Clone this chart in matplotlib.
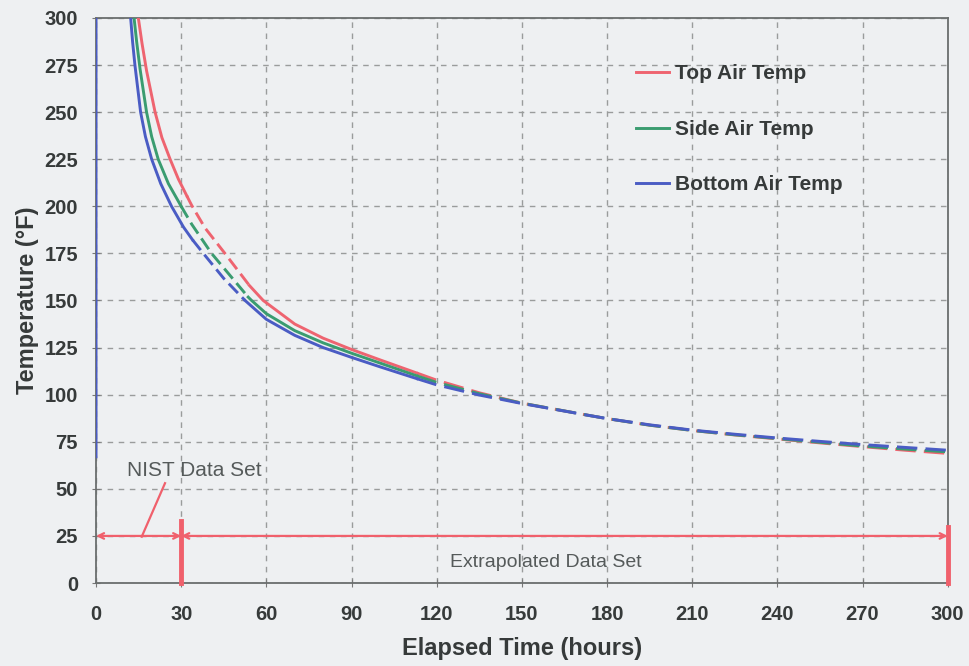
import numpy as np
from matplotlib import pyplot as plt

# Temperature curves (hours, deg F)
top_time = [14.9, 16.2, 17.8, 20.8, 23.2, 26.1, 29, 32, 33.7, 38.4, 45.4, 54, 58.9, 70, 80, 90,
            100, 113, 120, 135, 150, 172.8, 180, 195, 210, 225, 240, 255, 270, 285, 300]
top_temp = [300, 286.5, 272, 250, 236.5, 225, 214.5, 205.5, 200.5, 188.5, 175, 158, 150, 137.5, 130, 124,
            118.5, 111.5, 107.7, 101, 95.5, 89.2, 87.3, 83.8, 81, 78.6, 76.5, 74.4, 72.4, 70.5, 68.8]

side_time = [13.4, 14.3, 15.5, 17.8, 19.6, 21.9, 25.5, 30, 33.7, 40.7, 53.6, 54.8, 60, 70, 80, 90,
             100, 113, 120, 135, 150, 172.8, 180, 195, 210, 225, 240, 255, 270, 285, 300]
side_temp = [300, 287.5, 273, 250, 237, 225, 212, 200, 190.5, 175, 151.8, 150, 143, 134, 127.5, 122,
             116.8, 110, 106.5, 100.5, 95.5, 89.2, 87.3, 83.8, 81, 78.7, 76.7, 74.7, 72.7, 71.1, 69.6]

bottom_time = [0, 0, 12.2, 12.9, 13.7, 15.7, 17.4, 19.6, 22.8, 26.6, 30.8, 34, 37.8, 45, 52.5, 60,
               70, 80, 90, 100, 113, 120, 135, 150, 172.8, 180, 195, 210, 225, 240, 255, 270, 285, 300]
bottom_temp = [67, 400, 300, 287, 275, 250, 237, 225, 212, 200, 189, 182.2, 175, 161.7, 150, 140,
               131.5, 125, 119.8, 114.8, 108.5, 105.2, 99.8, 95.3, 89.2, 87.3, 84, 81.2, 79, 77, 75.2, 73.5, 72, 70.5]

# where each curve switches between solid and dashed
top_breaks = [32, 54, 113]
side_breaks = [30, 53.6, 113]
bottom_breaks = [34, 52.5, 113]

series = [
    ('Top Air Temp', top_time, top_temp, top_breaks, '#ee6470'),
    ('Side Air Temp', side_time, side_temp, side_breaks, '#3a9c70'),
    ('Bottom Air Temp', bottom_time, bottom_temp, bottom_breaks, '#4a5cc4'),
]

bg = '#eef0f2'
txt = '#363a3a'
annot = '#f0606c'

fig = plt.figure(figsize=(9.7, 6.66), dpi=100, facecolor=bg)
ax = fig.add_axes([0.099, 0.1246, 0.878, 0.8484], facecolor=bg)

styles = ['-', (0, (4.5, 2)), '-', (0, (7, 2.8))]
for label, t, T, br, col in series:
    t = np.array(t)
    T = np.array(T)
    edges = [-1] + br + [1000]
    for k in range(4):
        m = (t >= edges[k]) & (t <= edges[k + 1])
        ax.plot(t[m], T[m], color=col, lw=2.1, ls=styles[k],
                label=label if k == 0 else None, zorder=3)

# data-set range markers
ax.annotate('', xy=(0, 25), xytext=(30, 25),
            arrowprops=dict(arrowstyle='<->', color=annot, lw=1.6, shrinkA=0, shrinkB=0))
ax.annotate('', xy=(30, 25), xytext=(300, 25),
            arrowprops=dict(arrowstyle='<->', color=annot, lw=1.6, shrinkA=0, shrinkB=0))
ax.plot([30, 30], [0, 33], color=annot, lw=3.5, zorder=4, clip_on=False)
ax.plot([300, 300], [0, 30], color=annot, lw=3.5, zorder=4, clip_on=False)
ax.plot([16.1, 24.3], [24.6, 53], color=annot, lw=1.6)
ax.text(34.5, 60, 'NIST Data Set', ha='center', va='center', fontsize=15,
        color='#555a5a', family='Liberation Sans')
ax.text(158.5, 11, 'Extrapolated Data Set', ha='center', va='center', fontsize=14,
        color='#555a5a', family='Liberation Sans')

ax.set_xlim(0, 300)
ax.set_ylim(0, 300)
ax.set_xticks(np.arange(0, 301, 30))
ax.set_yticks(np.arange(0, 301, 25))
ax.grid(True, ls=(0, (4, 4)), color='#9a9c9c', lw=1.0, zorder=0)
ax.tick_params(direction='inout', length=6, color='#777', labelsize=14.5,
               labelcolor=txt)
ax.tick_params(axis='x', pad=13)
ax.tick_params(axis='y', pad=10)
for lab in ax.get_xticklabels() + ax.get_yticklabels():
    lab.set_fontweight('bold')
    lab.set_family('Liberation Sans')
for s in ax.spines.values():
    s.set_color('#6a6e6e')
    s.set_linewidth(1.3)

ax.set_xlabel('Elapsed Time (hours)', fontsize=17, fontweight='bold', color=txt,
              family='Liberation Sans', labelpad=9)
ax.set_ylabel('Temperature (°F)', fontsize=17, fontweight='bold', color=txt,
              family='Liberation Sans', labelpad=4)

leg = ax.legend(loc='upper left', bbox_to_anchor=(0.612, 0.951), frameon=False,
                handlelength=1.6, handletextpad=0.25, labelspacing=1.75,
                prop={'family': 'Liberation Sans', 'weight': 'bold', 'size': 15})
for tx in leg.get_texts():
    tx.set_color(txt)

fig.savefig('out.png', dpi=100, facecolor=bg)
